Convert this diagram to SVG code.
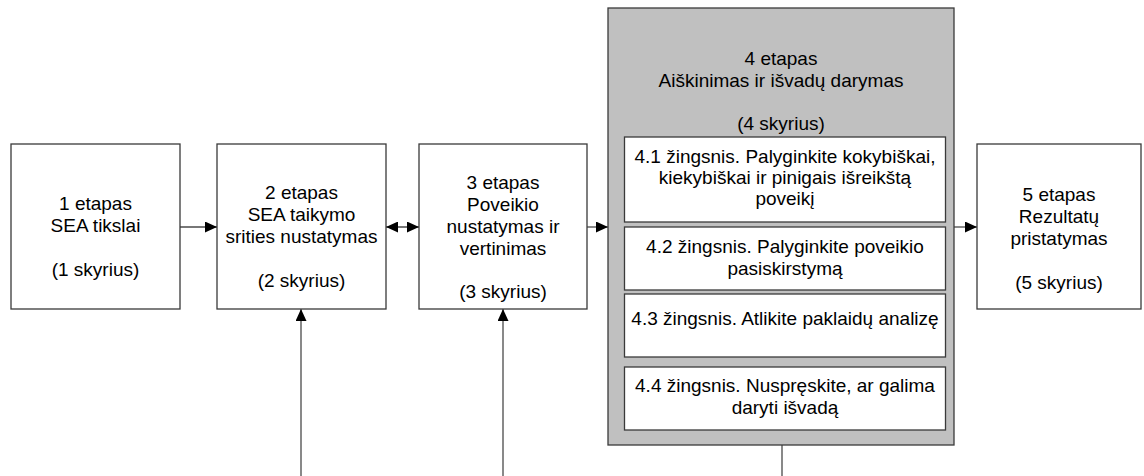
<svg xmlns="http://www.w3.org/2000/svg" width="1144" height="476" viewBox="0 0 1144 476">
<style>
.box{fill:#fff;stroke:#3a3a3a;stroke-width:1.3}
.gray{fill:#c0c0c0;stroke:#3a3a3a;stroke-width:1.3}
.t{font-family:"Liberation Sans",Arial,sans-serif;font-size:19px;fill:#000;text-anchor:middle}
.c{fill:none;stroke:#4a4a4a;stroke-width:1.3}
</style>
<defs>
<marker id="ah" viewBox="0 0 12 11" refX="12" refY="5.5" markerWidth="12" markerHeight="11" markerUnits="userSpaceOnUse" orient="auto-start-reverse">
<path d="M0,0 L12,5.5 L0,11 z" fill="#000"/>
</marker>
</defs>
<rect width="1144" height="476" fill="#fff"/>
<g id="connectors">
<line class="c" x1="180" y1="227" x2="217" y2="227" marker-end="url(#ah)"/>
<line class="c" x1="386" y1="227" x2="419" y2="227" marker-start="url(#ah)" marker-end="url(#ah)"/>
<line class="c" x1="587" y1="227" x2="608" y2="227" marker-end="url(#ah)"/>
<line class="c" x1="954" y1="227" x2="977" y2="227" marker-end="url(#ah)"/>
<line class="c" x1="301" y1="476" x2="301" y2="309" marker-end="url(#ah)"/>
<line class="c" x1="503" y1="476" x2="503" y2="309" marker-end="url(#ah)"/>
<line class="c" x1="782" y1="445" x2="782" y2="476"/>
</g>
<g id="stage1">
<rect class="box" x="11" y="144" width="169" height="165"/>
<text class="t" x="95.5" y="210">1 etapas</text>
<text class="t" x="95.5" y="232">SEA tikslai</text>
<text class="t" x="95.5" y="276">(1 skyrius)</text>
</g>
<g id="stage2">
<rect class="box" x="217" y="144" width="169" height="165"/>
<text class="t" x="301.5" y="199">2 etapas</text>
<text class="t" x="301.5" y="221">SEA taikymo</text>
<text class="t" x="301.5" y="243">srities nustatymas</text>
<text class="t" x="301.5" y="287">(2 skyrius)</text>
</g>
<g id="stage3">
<rect class="box" x="419" y="144" width="168" height="165"/>
<text class="t" x="503" y="189">3 etapas</text>
<text class="t" x="503" y="211">Poveikio</text>
<text class="t" x="503" y="233">nustatymas ir</text>
<text class="t" x="503" y="255">vertinimas</text>
<text class="t" x="503" y="298">(3 skyrius)</text>
</g>
<g id="stage4">
<rect class="gray" x="608" y="8" width="346" height="437"/>
<text class="t" x="781" y="65">4 etapas</text>
<text class="t" x="781" y="87">Aiškinimas ir išvadų darymas</text>
<text class="t" x="781" y="130">(4 skyrius)</text>
</g>
<g id="step41">
<rect class="box" x="624.5" y="137" width="321" height="85"/>
<text class="t" x="785" y="163">4.1 žingsnis. Palyginkite kokybiškai,</text>
<text class="t" x="785" y="184">kiekybiškai ir pinigais išreikštą</text>
<text class="t" x="785" y="205">poveikį</text>
</g>
<g id="step42">
<rect class="box" x="624.5" y="227" width="321" height="63"/>
<text class="t" x="785" y="253">4.2 žingsnis. Palyginkite poveikio</text>
<text class="t" x="785" y="275">pasiskirstymą</text>
</g>
<g id="step43">
<rect class="box" x="624.5" y="294" width="321" height="63"/>
<text class="t" x="785" y="325">4.3 žingsnis. Atlikite paklaidų analizę</text>
</g>
<g id="step44">
<rect class="box" x="624.5" y="367" width="321" height="63"/>
<text class="t" x="785" y="392">4.4 žingsnis. Nuspręskite, ar galima</text>
<text class="t" x="785" y="414">daryti išvadą</text>
</g>
<g id="stage5">
<rect class="box" x="977" y="144" width="164" height="165"/>
<text class="t" x="1059" y="201">5 etapas</text>
<text class="t" x="1059" y="223">Rezultatų</text>
<text class="t" x="1059" y="245">pristatymas</text>
<text class="t" x="1059" y="289">(5 skyrius)</text>
</g>
</svg>
